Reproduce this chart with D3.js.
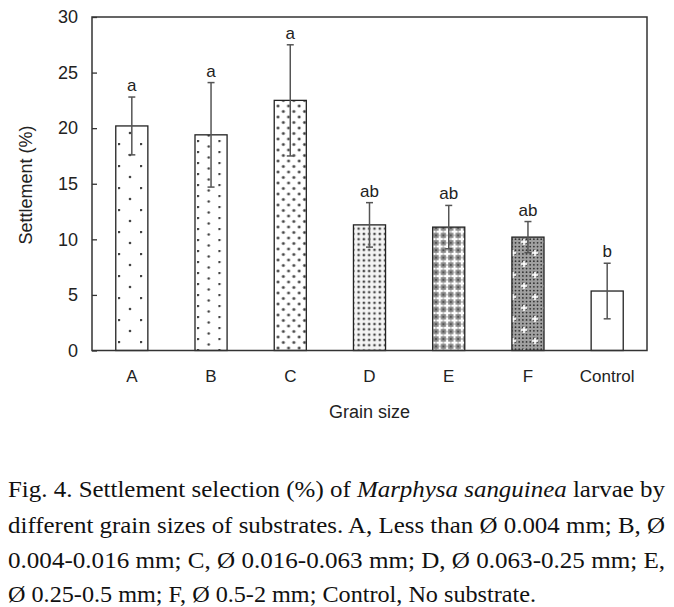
<!DOCTYPE html>
<html><head><meta charset="utf-8">
<script src="https://cdn.jsdelivr.net/npm/d3@7"></script>
<style>
html,body{margin:0;padding:0;background:#fff;}svg{display:block;}
.sans{font-family:'Liberation Sans',Arial,sans-serif;}
.serif{font-family:'Liberation Serif','Times New Roman',Times,serif;}
</style>
</head><body>
<svg id="chart" width="674" height="607"></svg>
<script>
const categories = ["A","B","C","D","E","F","Control"];
const means      = [20.2, 19.4, 22.5, 11.3, 11.1, 10.2, 5.35];
const errors     = [2.6, 4.7, 5.0, 2.0, 1.95, 1.4, 2.5];
const letters    = ["a","a","a","ab","ab","ab","b"];
const yTicks     = [0,5,10,15,20,25,30];
const patterns   = ["pA","pB","pC","pD","pE","pF",null];
const captionLines = [
  [["Fig. 4. Settlement selection (%) of ",false],["Marphysa sanguinea",true],[" larvae by",false]],
  [["different grain sizes of substrates. A, Less than \u00d8 0.004 mm; B, \u00d8",false]],
  [["0.004-0.016 mm; C, \u00d8 0.016-0.063 mm; D, \u00d8 0.063-0.25 mm; E,",false]],
  [["\u00d8 0.25-0.5 mm; F, \u00d8 0.5-2 mm; Control, No substrate.",false]]
];

const svg = d3.select("#chart");
const m = {left:92, right:647, top:17, bottom:350.5};
const x = d3.scaleBand().domain(categories).range([m.left,m.right]).paddingInner(0.595).paddingOuter(0.3);
const y = d3.scaleLinear().domain([0,30]).range([m.bottom,m.top]);

// patterns
const defs = svg.append("defs");
function pat(id,w,h){return defs.append("pattern").attr("id",id).attr("patternUnits","userSpaceOnUse").attr("width",w).attr("height",h);}
let p;
p = pat("pA",22,22).attr("x",118).attr("y",121);
p.append("rect").attr("width",22).attr("height",22).attr("fill","#fff");
[[1,1],[12,12]].forEach(d=>p.append("circle").attr("cx",d[0]).attr("cy",d[1]).attr("r",1.3).attr("fill","#444"));
p = pat("pB",21.4,11).attr("x",197).attr("y",140);
p.append("rect").attr("width",21.4).attr("height",11).attr("fill","#fff");
[[1,1],[11.7,6.5]].forEach(d=>p.append("circle").attr("cx",d[0]).attr("cy",d[1]).attr("r",1.3).attr("fill","#444"));
p = pat("pC",10.6,11).attr("x",276).attr("y",104);
p.append("rect").attr("width",10.6).attr("height",11).attr("fill","#fff");
[[2,2],[7.3,7.5]].forEach(d=>p.append("circle").attr("cx",d[0]).attr("cy",d[1]).attr("r",1.8).attr("fill","#999"));
[[2,2],[7.3,7.5]].forEach(d=>p.append("circle").attr("cx",d[0]).attr("cy",d[1]).attr("r",0.9).attr("fill","#333"));
p = pat("pD",5.3,5.3).attr("x",356).attr("y",226);
p.append("rect").attr("width",5.3).attr("height",5.3).attr("fill","#f4f4f4");
p.append("circle").attr("cx",2.6).attr("cy",2.6).attr("r",1.6).attr("fill","#999");
p.append("circle").attr("cx",2.6).attr("cy",2.6).attr("r",0.8).attr("fill","#222");
p = pat("pE",7.4,7.4).attr("x",436).attr("y",228);
p.append("rect").attr("width",7.4).attr("height",7.4).attr("fill","#888");
p.append("rect").attr("x",2.6).attr("y",0.4).attr("width",2.2).attr("height",6.6).attr("fill","#fff");
p.append("rect").attr("x",0.4).attr("y",2.6).attr("width",6.6).attr("height",2.2).attr("fill","#fff");
[[0,0],[7.4,0],[0,7.4],[7.4,7.4]].forEach(d=>p.append("circle").attr("cx",d[0]).attr("cy",d[1]).attr("r",0.9).attr("fill","#444"));
p = pat("pF",22,22).attr("x",518).attr("y",238);
p.append("rect").attr("width",22).attr("height",22).attr("fill","#a0a0a0");
for(let i=0;i<22;i+=3.67){for(let j=0;j<22;j+=3.67){p.append("circle").attr("cx",i+1.2).attr("cy",j+1.2).attr("r",0.9).attr("fill","#333");}}
[[6,4],[17,15]].forEach(d=>{
  p.append("rect").attr("x",d[0]-0.8).attr("y",d[1]-3).attr("width",1.6).attr("height",6).attr("fill","#fff");
  p.append("rect").attr("x",d[0]-3).attr("y",d[1]-0.8).attr("width",6).attr("height",1.6).attr("fill","#fff");
});

// bars
const bw = x.bandwidth();
svg.append("g").selectAll("rect").data(categories).join("rect")
  .attr("x",(d)=>x(d)).attr("y",(d,i)=>y(means[i]))
  .attr("width",bw).attr("height",(d,i)=>y(0)-y(means[i]))
  .attr("fill",(d,i)=>patterns[i]?`url(#${patterns[i]})`:"#fff")
  .attr("stroke","#222").attr("stroke-width",1.3);

// error bars
const eg = svg.append("g").attr("stroke","#555").attr("stroke-width",1.5);
categories.forEach((c,i)=>{
  const cx = x(c)+bw/2;
  eg.append("line").attr("x1",cx).attr("x2",cx).attr("y1",y(means[i]+errors[i])).attr("y2",y(means[i]-errors[i]));
  eg.append("line").attr("x1",cx-3.5).attr("x2",cx+3.5).attr("y1",y(means[i]+errors[i])).attr("y2",y(means[i]+errors[i]));
  eg.append("line").attr("x1",cx-3.5).attr("x2",cx+3.5).attr("y1",y(means[i]-errors[i])).attr("y2",y(means[i]-errors[i]));
});

// letters
svg.append("g").selectAll("text").data(categories).join("text")
  .attr("class","sans")
  .attr("x",d=>x(d)+bw/2).attr("y",(d,i)=>y(means[i]+errors[i])-6)
  .attr("text-anchor","middle")
  .attr("font-size",17).attr("fill","#222").text((d,i)=>letters[i]);

// frame
svg.append("rect").attr("x",m.left).attr("y",m.top).attr("width",m.right-m.left).attr("height",m.bottom-m.top)
  .attr("fill","none").attr("stroke","#333").attr("stroke-width",1.5);

// y axis
const yAxis = svg.append("g").attr("transform",`translate(${m.left},0)`)
  .call(d3.axisLeft(y).tickValues(yTicks).tickSizeInner(-5).tickSizeOuter(0).tickPadding(14));
yAxis.select(".domain").remove();
yAxis.attr("font-family",null).attr("font-size",null);
yAxis.selectAll("line").attr("stroke","#333").attr("stroke-width",1.3);
yAxis.selectAll("text").attr("class","sans").attr("font-size",18).attr("fill","#222");

// x axis
const xAxis = svg.append("g").attr("transform",`translate(0,${m.bottom})`)
  .call(d3.axisBottom(x).tickSize(0).tickPadding(19));
xAxis.select(".domain").remove();
xAxis.attr("font-family",null).attr("font-size",null);
xAxis.selectAll("text").attr("class","sans").attr("font-size",17).attr("fill","#222");

// axis titles
svg.append("text").attr("class","sans").attr("x",(m.left+m.right)/2).attr("y",418).attr("text-anchor","middle")
  .attr("font-size",18).attr("fill","#222").text("Grain size");
svg.append("text").attr("class","sans").attr("transform","translate(32,185) rotate(-90)").attr("text-anchor","middle")
  .attr("font-size",18).attr("fill","#222").text("Settlement (%)");

// caption
const capBase = [497,533,568,602];
const capLen = [657,657,657,528];
captionLines.forEach((parts,i)=>{
  const t = svg.append("text").attr("class","serif").attr("x",8).attr("y",capBase[i])
    .attr("font-size",24).attr("fill","#111")
    .attr("textLength",capLen[i]).attr("lengthAdjust","spacingAndGlyphs");
  parts.forEach(pp=>t.append("tspan").attr("font-style",pp[1]?"italic":"normal").text(pp[0]));
});
</script>
</body></html>
